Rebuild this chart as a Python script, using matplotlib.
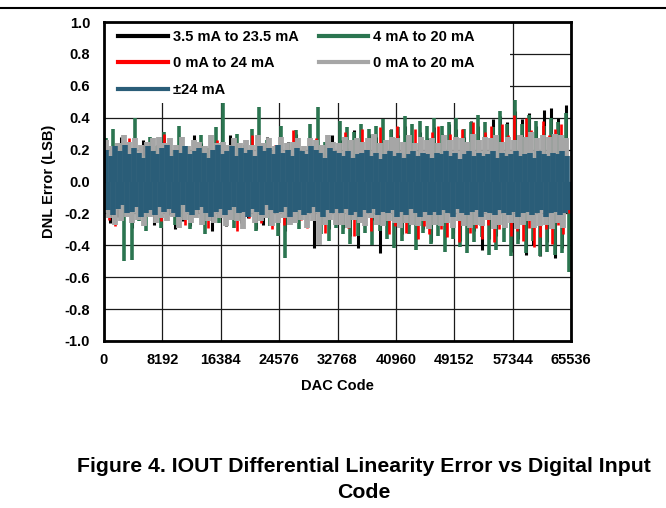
import numpy as np
import matplotlib
matplotlib.use("Agg")
import matplotlib.pyplot as plt
from matplotlib.lines import Line2D
from matplotlib.patches import Rectangle

plt.rcParams['font.family'] = ['Liberation Sans', 'DejaVu Sans']
plt.rcParams['font.weight'] = 'bold'

# DNL error in hundredths of LSB
blue_24 = [
    20, -18, 16, -21, 22, -17, 19, -15, 23, -20, 17, -19, 21, -16, 18, -22, 15, -20, 22, -18,
    19, -21, 17, -16, 21, -19, 23, -17, 16, -20, 20, -22, 18, -15, 22, -19, 17, -21, 19, -18,
    21, -16, 18, -20, 15, -22, 20, -19, 23, -17, 17, -21, 19, -18, 22, -16, 16, -20, 21, -19,
    18, -22, 20, -17, 16, -19, 22, -21, 19, -15, 21, -18, 17, -20, 23, -19, 18, -16, 20, -22,
    16, -19, 21, -18, 19, -21, 17, -20, 22, -16, 20, -19, 18, -22, 15, -18, 21, -20, 19, -17,
    18, -20, 16, -17, 19, -21, 15, -19, 17, -22, 18, -18, 20, -20, 16, -17, 18, -21, 14, -19,
    17, -20, 19, -18, 16, -22, 18, -19, 15, -21, 17, -17, 19, -20, 16, -22, 18, -19, 17, -21,
    15, -19, 18, -21, 17, -18, 19, -20, 16, -22, 18, -17, 14, -20, 17, -21, 19, -19, 16, -18,
    18, -22, 16, -19, 17, -20, 19, -21, 15, -18, 18, -20, 16, -21, 17, -19, 19, -22, 16, -20,
    17, -19, 18, -21, 15, -20, 19, -18, 17, -22, 16, -20, 18, -19, 17, -21, 19, -20, 16, -18,
]
gray_0_20 = [
    26, -23, 22, -27, 24, -25, 29, -22, 25, -26, 27, -24, 23, -28, 25, -22, 27, -26, 28, -23,
    24, -25, 27, -22, 23, -29, 28, -24, 22, -26, 26, -23, 25, -27, 22, -25, 29, -26, 24, -23,
    25, -28, 23, -24, 27, -25, 24, -30, 26, -22, 23, -26, 29, -25, 24, -23, 27, -28, 22, -26,
    28, -23, 24, -27, 25, -26, 27, -24, 22, -29, 27, -25, 26, -40, 23, -27, 29, -24, 25, -27,
    24, -27, 28, -29, 26, -24, 27, -26, 25, -28, 27, -23, 30, -27, 24, -28, 26, -25, 28, -26,
    27, -29, 25, -26, 29, -27, 24, -28, 28, -25, 26, -30, 27, -27, 24, -28, 29, -26, 26, -29,
    28, -25, 27, -28, 25, -29, 30, -27, 26, -28, 28, -24, 27, -30, 29, -27, 25, -29, 28, -26,
    26, -30, 29, -27, 28, -25, 31, -29, 27, -28, 29, -27, 28, -30, 30, -26, 29, -29, 27, -18,
]
red_0_24 = [
    18, -24, 12, -28, 20, -15, 23, -20, 27, -13, 16, -22, 19, -26, 14, -17, 22, -21, 13, -25,
    30, -16, 21, -19, 14, -23, 18, -27, 20, -12, 25, -20, 17, -24, 13, -29, 21, -18, 26, -15,
    16, -22, 19, -14, 24, -31, 13, -18, 22, -23, 29, -16, 15, -26, 20, -19, 17, -30, 23, -13,
    21, -27, 14, -20, 32, -17, 19, -24, 16, -29, 12, -22, 27, -18, 23, -32, 15, -21, 20, -25,
    22, -20, 31, -29, 25, -34, 20, -23, 33, -27, 18, -31, 28, -25, 34, -21, 23, -33, 26, -28,
    35, -26, 21, -32, 29, -22, 33, -36, 25, -28, 22, -33, 31, -24, 35, -30, 19, -35, 30, -27,
    28, -38, 33, -25, 24, -32, 37, -29, 22, -36, 31, -27, 35, -38, 25, -30, 36, -24, 29, -34,
    42, -31, 27, -37, 40, -29, 32, -41, 24, -35, 38, -30, 29, -39, 33, -27, 36, -33, 26, -20,
]
green_4_20 = [
    27, -21, 33, -18, 24, -50, 19, -49, 40, -25, 16, -31, 28, -20, 22, -29,
    31, -17, 20, -27, 35, -23, 18, -30, 26, -14, 29, -33, 21, -19, 34, -26,
    52, -22, 17, -29, 30, -24, 23, -16, 33, -31, 47, -20, 26, -28, 19, -34,
    35, -48, 24, -21, 32, -30, 18, -27, 36, -17, 47, -33, 25, -37, 21, -29,
    38, -33, 34, -39, 31, -34, 36, -32, 33, -40, 35, -31, 39, -36, 32, -42,
    34, -37, 41, -33, 36, -43, 38, -32, 35, -39, 40, -34, 35, -44, 37, -36,
    40, -41, 33, -45, 37, -38, 42, -35, 37, -46, 34, -43, 44, -38, 36, -47,
    51, -39, 36, -45, 42, -37, 38, -47, 35, -44, 40, -46, 37, -45, 43, -57,
]
black_35_235 = [
    21, -26, 15, -22, 28, -18, 24, -29, 17, -23, 26, -14, 20, -27, 23, -19,
    27, -21, 18, -30, 22, -25, 16, -28, 29, -20, 24, -17, 19, -31, 25, -22,
    23, -28, 29, -16, 20, -26, 26, -23, 17, -30, 22, -27, 28, -19, 21, -25,
    18, -31, 25, -24, 30, -21, 22, -27, 27, -42, 19, -26, 24, -30, 29, -22,
    26, -29, 21, -34, 32, -42, 24, -27, 30, -24, 28, -45, 23, -31, 33, -26,
    29, -33, 35, -27, 24, -36, 31, -30, 27, -38, 34, -25, 30, -35, 36, -32,
    33, -37, 28, -40, 38, -31, 35, -43, 30, -36, 39, -34, 41, -29, 37, -44,
    44, -36, 39, -46, 43, -40, 35, -47, 45, -38, 46, -48, 40, -42, 48, -30,
]

labels = ["3.5 mA to 23.5 mA", "4 mA to 20 mA", "0 mA to 24 mA", "0 mA to 20 mA", "\u00b124 mA"]
colors = ["#000000", "#2B7550", "#FF0000", "#A6A6A6", "#2A5D78"]
series = [black_35_235, green_4_20, red_0_24, gray_0_20, blue_24]
widths = [2.2, 2.6, 1.9, 4.2, 4.0]

xticks = [0, 8192, 16384, 24576, 32768, 40960, 49152, 57344, 65536]
yticks = [-1.0, -0.8, -0.6, -0.4, -0.2, 0.0, 0.2, 0.4, 0.6, 0.8, 1.0]

fig = plt.figure(figsize=(6.66, 5.08), dpi=100)
ax = fig.add_axes([104/666, 1-341/508, 467/666, 319/508])

for vals, c, w in zip(series, colors, widths):
    y = np.array(vals) / 100.0
    x = np.linspace(300, 65300, len(y))
    ax.vlines(x, 0, y, colors=c, lw=w, zorder=2)

ax.set_xlim(0, 65536)
ax.set_ylim(-1.0, 1.0)
ax.set_xticks(xticks)
ax.set_yticks(yticks)
ax.set_yticklabels(["%.1f" % v for v in yticks])
ax.tick_params(length=0, labelsize=10.5)
ax.tick_params(axis='y', pad=10)
ax.tick_params(axis='x', pad=9)
ax.grid(True, color="#1a1a1a", lw=0.9)
ax.set_axisbelow(True)
for s in ax.spines.values():
    s.set_linewidth(2)
    s.set_zorder(10)

# white area behind legend
ax.add_patch(Rectangle((0, 0.746), 0.869, 0.254, transform=ax.transAxes,
                       facecolor="white", edgecolor="none", zorder=4))

handles = [Line2D([], [], color=c, lw=3) for c in colors]
order = [0, 2, 4, 1, 3]
leg = ax.legend([handles[i] for i in order], [labels[i] for i in order],
                ncol=2, loc="upper left", bbox_to_anchor=(0.031, 0.976),
                frameon=False, fontsize=10.5, handlelength=3.4,
                handletextpad=0.35, columnspacing=1.35, labelspacing=0.86,
                borderpad=0, borderaxespad=0)
leg.set_zorder(6)

ax.set_xlabel("DAC Code", fontsize=10.5, fontweight="bold")
ax.set_ylabel("DNL Error (LSB)", fontsize=10.5, fontweight="bold")
ax.xaxis.set_label_coords(0.5, -0.118)
ax.yaxis.set_label_coords(-0.103, 0.5)

fig.add_artist(Line2D([0, 1], [0.984, 0.984], color="black", lw=1.5))
fig.text(0.547, 1-467/508, "Figure 4. IOUT Differential Linearity Error vs Digital Input",
         ha="center", va="center", fontsize=15.3, fontweight="bold")
fig.text(0.547, 1-492/508, "Code", ha="center", va="center", fontsize=15.3, fontweight="bold")

fig.savefig("out.png", dpi=100)
